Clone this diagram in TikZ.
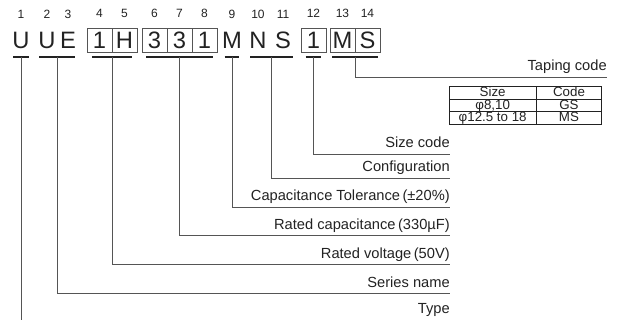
\documentclass[tikz,border=0pt]{standalone}
\usepackage{fontspec}
\setmainfont{Liberation Sans}
\usetikzlibrary{positioning,matrix}
\definecolor{ink}{HTML}{222222}
\definecolor{rule}{HTML}{555555}
\tikzset{
	ch/.style={font=\fontsize{17.8}{20}\selectfont,text=ink,inner sep=0pt,minimum height=18pt,text height=12.7pt,text depth=0pt},
	bx/.style={ch,draw=rule,line width=0.6pt,minimum width=18.75pt},
	num/.style={font=\fontsize{9}{10}\selectfont,text=ink,inner sep=0pt,text depth=0pt},
	uline/.style={line width=1.5pt,draw=ink},
	lead/.style={line width=0.6pt,draw=rule},
	lbl/.style={font=\fontsize{11}{12}\selectfont,text=ink,anchor=south east,inner xsep=0pt,inner ysep=4.3pt,text depth=0pt},
	sizetab/.style={matrix of nodes,row sep=-0.6pt,column sep=-0.6pt,
		nodes={draw=ink,line width=0.6pt,font=\fontsize{10}{11}\selectfont,text=ink,inner sep=0pt,minimum height=9.3pt,text height=7.1pt,text depth=1.4pt},
		column 1/.style={nodes={minimum width=65.1pt}},
		column 2/.style={nodes={minimum width=49.35pt}}}
}
\begin{document}
\begin{tikzpicture}[x=0.75pt,y=-0.75pt,label distance=7pt]
	\useasboundingbox (0,0) rectangle (619,321);
	\node[ch,label={[num]above:1}] (c1) at (21,40) {U};
	\node[ch,label={[num]above:2}] (c2) at (47,40) {U};
	\node[ch,label={[num]above:3}] (c3) at (68,40) {E};
	\node[bx,label={[num]above:4}] (c4) at (99.5,40) {1};
	\node[bx,label={[num]above:5}] (c5) at (124.5,40) {H};
	\node[bx,label={[num]above:6}] (c6) at (154.5,40) {3};
	\node[bx,label={[num]above:7}] (c7) at (179.5,40) {3};
	\node[bx,label={[num]above:8}] (c8) at (204.5,40) {1};
	\node[ch,label={[num]above:9}] (c9) at (232,40) {M};
	\node[ch,label={[num]above:10}] (c10) at (258,40) {N};
	\node[ch,label={[num]above:11}] (c11) at (283,40) {S};
	\node[bx,label={[num]above:12}] (c12) at (313.5,40) {1};
	\node[bx,label={[num]above:13}] (c13) at (342.5,40) {M};
	\node[bx,label={[num]above:14}] (c14) at (367.5,40) {S};
	\coordinate (ul) at (0,57);
	\draw[uline] ([xshift=1pt]c1.west |- ul) -- coordinate (uU) ([xshift=-1pt]c1.east |- ul);
	\draw[uline] ([xshift=1pt]c2.west |- ul) -- coordinate (uUE) ([xshift=-1pt]c3.east |- ul);
	\draw[uline] ([xshift=4pt]c4.west |- ul) -- coordinate (u1H) ([xshift=-4pt]c5.east |- ul);
	\draw[uline] ([xshift=3.5pt]c6.west |- ul) -- coordinate (u331) ([xshift=-3.5pt]c8.east |- ul);
	\draw[uline] ([xshift=2pt]c9.west |- ul) -- coordinate (uM) ([xshift=-2pt]c9.east |- ul);
	\draw[uline] ([xshift=1pt]c10.west |- ul) -- coordinate (uNS) ([xshift=1pt]c11.east |- ul);
	\draw[uline] ([xshift=3.75pt]c12.west |- ul) -- coordinate (u12) ([xshift=-3.75pt]c12.east |- ul);
	\draw[uline] ([xshift=2pt]c13.west |- ul) -- coordinate (uMS) ([xshift=-2pt]c14.east |- ul);
	\node[lbl] (tap) at (607,77) {Taping code};
	\node[lbl] (szc) at (450,154) {Size code};
	\node[lbl] (cfg) at (450,178) {Configuration};
	\node[lbl] (tol) at (450,207) {Capacitance Tolerance\,(±20\%)};
	\node[lbl] (cap) at (450,235) {Rated capacitance\,(330µF)};
	\node[lbl] (vol) at (450,264) {Rated voltage\,(50V)};
	\node[lbl] (ser) at (450,293) {Series name};
	\node[lbl] (typ) at (450,320) {Type};
	\matrix[sizetab,below left=3.5pt and 0pt of tap.south east] (sizes) {
		Size & Code \\
		φ8,10 & GS \\
		φ12.5 to 18 & MS \\
	};
	\draw[lead] (uMS) |- (tap.south east);
	\draw[lead] (u12) |- (szc.south east);
	\draw[lead] (uNS) |- (cfg.south east);
	\draw[lead] (uM) |- (tol.south east);
	\draw[lead] (u331) |- (cap.south east);
	\draw[lead] (u1H) |- (vol.south east);
	\draw[lead] (uUE) |- (ser.south east);
	\draw[lead] (uU) -- (uU |- typ.south);
\end{tikzpicture}
\end{document}
